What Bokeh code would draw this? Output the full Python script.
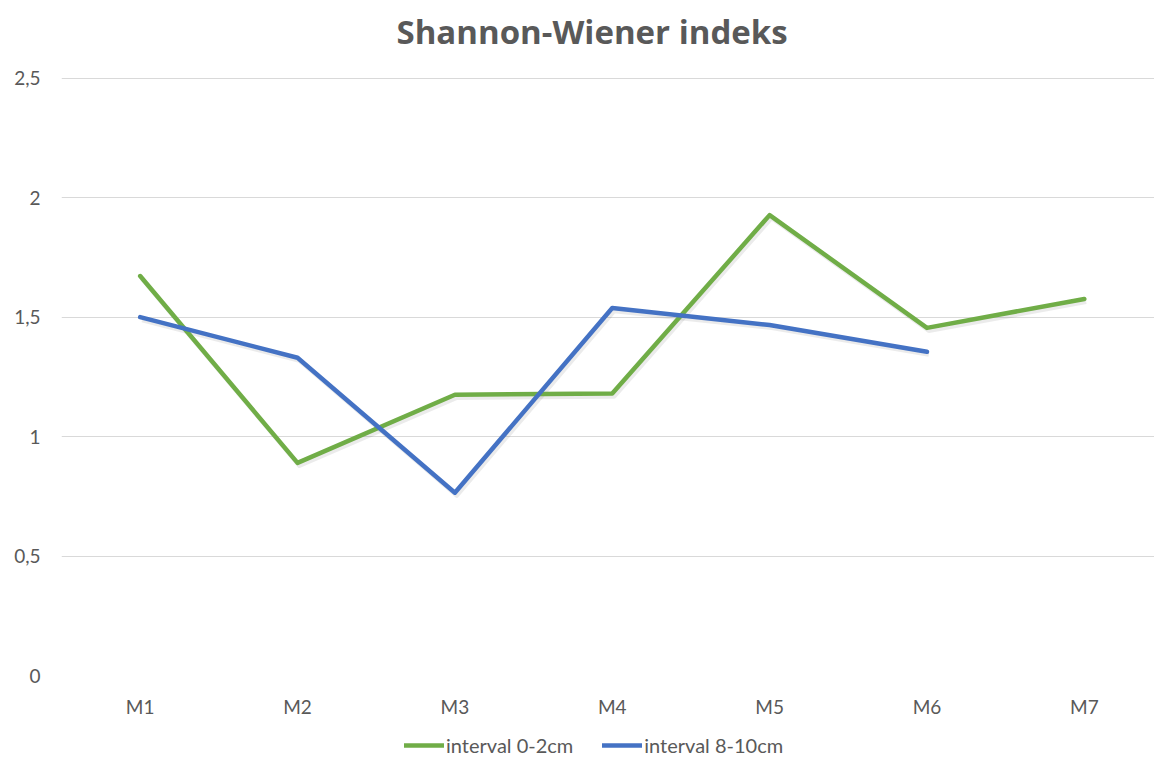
from bokeh.plotting import figure
from bokeh.models import Range1d, FixedTicker, Legend, LegendItem, Title
from bokeh.layouts import column
from bokeh.embed import file_html
from bokeh.resources import INLINE

categories = ["M1", "M2", "M3", "M4", "M5", "M6", "M7"]
green_vals = [1.672, 0.89, 1.175, 1.18, 1.927, 1.455, 1.576]
blue_vals = [1.50, 1.33, 0.765, 1.538, 1.467, 1.355]
y_ticks = [0, 0.5, 1, 1.5, 2, 2.5]
y_tick_labels = ["0", "0,5", "1", "1,5", "2", "2,5"]
series_names = ["interval 0-2cm", "interval 8-10cm"]
colors = ["#70AD47", "#4472C4"]

FONT = "Lato"
GRAY = "#595959"

xs = list(range(1, len(categories) + 1))

p = figure(width=1154, height=725, output_backend="svg", toolbar_location=None,
           x_range=Range1d(0.5, 7.446), y_range=Range1d(0, 2.503),
           min_border_left=61, min_border_right=0, min_border_top=77,
           min_border_bottom=50)
p.outline_line_color = None
p.background_fill_color = "white"

# main title (outermost) and a small spacer between it and the frame
p.title.text = "Shannon-Wiener indeks"
p.title.text_font = "Open Sans"
p.title.text_font_size = "33px"
p.title.text_font_style = "bold"
p.title.text_color = GRAY
p.title.align = "left"
p.title.offset = 335
p.title.text_line_height = 1.0
p.add_layout(Title(text=" ", text_font_size="7px"), "above")

# axes
p.xaxis.ticker = FixedTicker(ticks=xs)
p.xaxis.major_label_overrides = {i: c for i, c in zip(xs, categories)}
p.yaxis.ticker = FixedTicker(ticks=y_ticks)
p.yaxis.major_label_overrides = {t: l for t, l in zip(y_ticks, y_tick_labels)}
for ax in (p.xaxis, p.yaxis):
    ax.axis_line_color = None
    ax.major_tick_line_color = None
    ax.minor_tick_line_color = None
    ax.major_tick_out = 0
    ax.major_tick_in = 0
    ax.major_label_text_font = FONT
    ax.major_label_text_font_size = "19px"
    ax.major_label_text_color = GRAY
p.xaxis.major_label_standoff = 19
p.yaxis.major_label_standoff = 21

p.xgrid.grid_line_color = None
p.ygrid.grid_line_color = "#D9D9D9"
p.ygrid.grid_line_width = 1.2
p.ygrid.ticker = FixedTicker(ticks=y_ticks)

# faint shadows
p.line([x + 0.012 for x in xs], [v - 0.012 for v in green_vals], line_width=4.5,
       line_color="black", line_alpha=0.08, line_join="round")
p.line([x + 0.012 for x in xs[:len(blue_vals)]], [v - 0.012 for v in blue_vals],
       line_width=4.5, line_color="black", line_alpha=0.08, line_join="round")

p.line(xs, green_vals, line_width=4.5, line_color=colors[0], line_join="round", line_cap="round")
p.line(xs[:len(blue_vals)], blue_vals, line_width=4.5, line_color=colors[1], line_join="round", line_cap="round")

# legend strip below the chart (its renderers sit outside the visible range)
lg = figure(width=1154, height=35, output_backend="svg", toolbar_location=None,
            x_range=Range1d(0, 1), y_range=Range1d(0, 1),
            x_axis_location=None, y_axis_location=None, min_border=0)
lg.outline_line_color = None
lg.grid.grid_line_color = None
lr0 = lg.line(x=[-10, -9], y=[-10, -10], line_width=4.5, line_color=colors[0], line_cap="round")
lr1 = lg.line(x=[-10, -9], y=[-10, -10], line_width=4.5, line_color=colors[1], line_cap="round")
legend = Legend(items=[LegendItem(label=series_names[0], renderers=[lr0]),
                       LegendItem(label=series_names[1], renderers=[lr1])],
                orientation="horizontal", location=(343, 3))
legend.label_text_font = FONT
legend.label_text_font_size = "20px"
legend.label_text_color = GRAY
legend.glyph_width = 40
legend.glyph_height = 22
legend.label_height = 22
legend.label_standoff = 2
legend.spacing = 29
legend.padding = 0
legend.margin = 0
legend.border_line_color = None
legend.background_fill_alpha = 0
lg.add_layout(legend, "center")

layout = column(p, lg, spacing=0)
open("out.html", "w").write(file_html(layout, INLINE))
